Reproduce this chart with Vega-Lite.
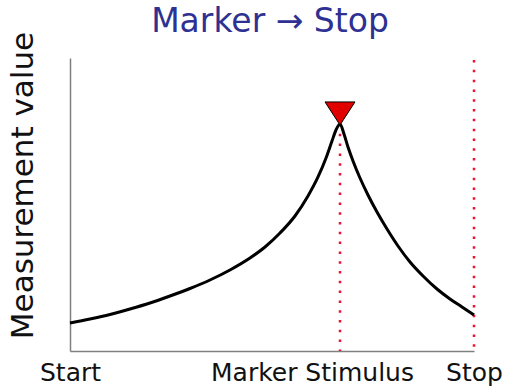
{
  "$schema": "https://vega.github.io/schema/vega-lite/v6.json",
  "autosize": "none",
  "width": 404,
  "height": 293,
  "padding": {"left": 70, "top": 58, "right": 32, "bottom": 36},
  "background": "white",
  "config": {"view": {"stroke": null}},
  "title": {
    "text": "Marker → Stop",
    "font": "DejaVu Sans",
    "fontSize": 33,
    "fontWeight": "normal",
    "color": "#2E3192",
    "anchor": "middle",
    "frame": "group",
    "baseline": "alphabetic",
    "offset": -34,
    "dx": -2
  },
  "datasets": {
    "curve": [
      {"x": 0, "y": 9.56},
      {"x": 4.95, "y": 10.92},
      {"x": 9.9, "y": 12.46},
      {"x": 14.85, "y": 14.33},
      {"x": 19.8, "y": 16.38},
      {"x": 24.75, "y": 18.77},
      {"x": 29.7, "y": 21.33},
      {"x": 34.65, "y": 24.23},
      {"x": 39.6, "y": 27.65},
      {"x": 44.55, "y": 31.74},
      {"x": 48.27, "y": 35.49},
      {"x": 51.98, "y": 40.27},
      {"x": 55.69, "y": 46.08},
      {"x": 58.91, "y": 52.9},
      {"x": 61.39, "y": 59.39},
      {"x": 63.37, "y": 65.87},
      {"x": 64.85, "y": 71.67},
      {"x": 65.84, "y": 75.43},
      {"x": 66.83, "y": 77.47},
      {"x": 67.82, "y": 74.06},
      {"x": 68.81, "y": 69.62},
      {"x": 70.05, "y": 64.85},
      {"x": 71.78, "y": 59.04},
      {"x": 73.76, "y": 53.24},
      {"x": 75.99, "y": 47.44},
      {"x": 78.47, "y": 41.64},
      {"x": 81.19, "y": 35.84},
      {"x": 84.16, "y": 30.38},
      {"x": 87.38, "y": 25.6},
      {"x": 90.84, "y": 21.16},
      {"x": 94.06, "y": 17.75},
      {"x": 97.03, "y": 15.02},
      {"x": 100, "y": 12.29}
    ],
    "events": [
      {"event": "Marker", "x": 66.83, "y": 77.47, "y2": 0},
      {"event": "Stop", "x": 100, "y": 99.3, "y2": 0}
    ],
    "peak": [
      {"x": 66.83, "y": 81.06}
    ]
  },
  "encoding": {
    "x": {
      "field": "x",
      "type": "quantitative",
      "scale": {"domain": [0, 100], "nice": false, "zero": false},
      "axis": {
        "values": [0, 59.9, 100],
        "labelExpr": "datum.value == 0 ? 'Start' : (datum.value == 100 ? 'Stop' : 'Marker Stimulus')",
        "domain": true,
        "domainColor": "#808080",
        "domainWidth": 1.5,
        "ticks": false,
        "grid": false,
        "labelFont": "DejaVu Sans",
        "labelFontSize": 25,
        "labelColor": "#111111",
        "labelBaseline": "alphabetic",
        "labelPadding": 29,
        "labelFlush": false,
        "labelOverlap": false,
        "labelBound": false,
        "labelLimit": 0,
        "title": null
      }
    },
    "y": {
      "field": "y",
      "type": "quantitative",
      "scale": {"domain": [0, 100], "nice": false, "zero": false},
      "axis": {
        "domain": true,
        "domainColor": "#808080",
        "domainWidth": 1.5,
        "ticks": false,
        "labels": false,
        "grid": false,
        "title": "Measurement value",
        "titleFont": "DejaVu Sans",
        "titleFontSize": 31,
        "titleFontWeight": "normal",
        "titleColor": "#111111",
        "titleAngle": -90,
        "titleX": -38,
        "titleY": 127,
        "titleAlign": "center",
        "titleBaseline": "alphabetic"
      }
    }
  },
  "layer": [
    {
      "data": {"name": "events"},
      "mark": {"type": "rule", "color": "#EE1133", "strokeWidth": 2.5, "strokeDash": [2.5, 7.3]},
      "encoding": {"y2": {"field": "y2"}}
    },
    {
      "data": {"name": "curve"},
      "mark": {"type": "line", "color": "#000000", "strokeWidth": 3, "interpolate": "monotone"},
      "encoding": {}
    },
    {
      "data": {"name": "peak"},
      "mark": {
        "type": "point",
        "shape": "M-1,-0.77L1,-0.77L0,0.77Z",
        "size": 900,
        "filled": true,
        "fill": "#E00000",
        "stroke": "#000000",
        "strokeWidth": 1,
        "opacity": 1
      }
    }
  ]
}
